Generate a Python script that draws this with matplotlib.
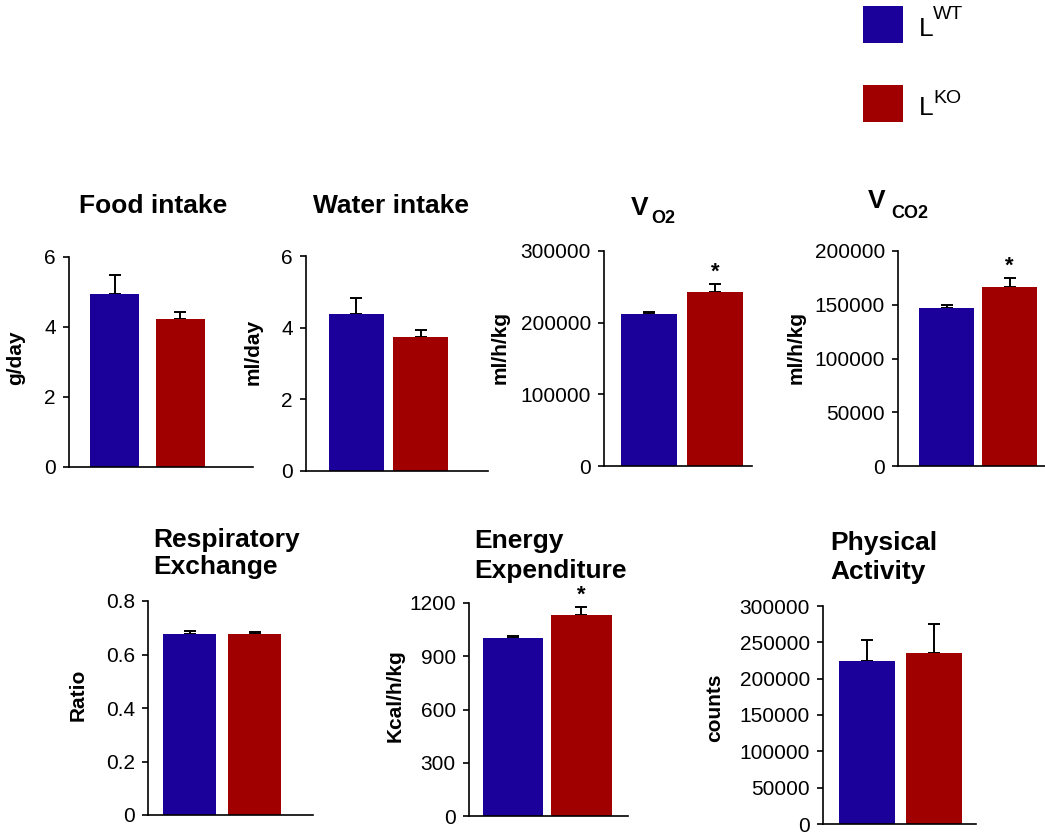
import matplotlib
matplotlib.use("Agg")
import matplotlib.pyplot as plt
from matplotlib.patches import Rectangle
from matplotlib.ticker import FuncFormatter, MultipleLocator

plt.rcParams["font.family"] = ["Liberation Sans", "DejaVu Sans"]

WT_COLOR = "#1b009a"
KO_COLOR = "#a10000"

# group means (LWT, LKO) and upper SEM
food_mean = [4.94, 4.23]
food_sem = [0.55, 0.20]
water_mean = [4.38, 3.74]
water_sem = [0.45, 0.19]
vo2_mean = [212000, 243000]
vo2_sem = [3000, 11000]
vco2_mean = [147000, 166500]
vco2_sem = [3000, 8500]
rer_mean = [0.677, 0.677]
rer_sem = [0.012, 0.006]
ee_mean = [1003, 1132]
ee_sem = [11, 45]
pa_mean = [224000, 235000]
pa_sem = [29000, 40000]

food_sig = [False, False]
water_sig = [False, False]
vo2_sig = [False, True]
vco2_sig = [False, True]
rer_sig = [False, False]
ee_sig = [False, True]
pa_sig = [False, False]

W, H = 1045, 835
fig = plt.figure(figsize=(W / 100, H / 100), dpi=100)


def fx(x):
    return x / W


def fy(y):
    return 1 - y / H


def panel(rect, xlim, width, ymax, ystep, mean, sem, sig, ylabel, label_xy):
    x0, x1, ytop, y0 = rect
    ax = fig.add_axes([fx(x0), fy(y0), fx(x1 - x0), (y0 - ytop) / H])
    ax.bar([0, 1], mean, width=width, color=[WT_COLOR, KO_COLOR], linewidth=0, zorder=2)
    ax.errorbar([0, 1], mean, yerr=[[0, 0], sem], fmt="none", ecolor="black",
                elinewidth=1.4, capsize=4, capthick=1.4, zorder=1)
    for i, s in enumerate(sig):
        if s:
            ax.annotate("*", (i, mean[i] + sem[i]), xytext=(0, 1), textcoords="offset points",
                        ha="center", va="bottom", fontsize=16, fontweight="bold")
    ax.set_xlim(*xlim)
    ax.set_ylim(0, ymax)
    ax.yaxis.set_major_locator(MultipleLocator(ystep))
    ax.yaxis.set_major_formatter(FuncFormatter(lambda v, p: f"{v:g}"))
    for side in ("top", "right"):
        ax.spines[side].set_visible(False)
    for side in ("left", "bottom"):
        ax.spines[side].set_linewidth(1.2)
    ax.set_xticks([])
    ax.tick_params(axis="y", direction="out", length=4.5, width=1.2, pad=5, labelsize=15)
    ax.set_ylabel(ylabel, fontsize=15, fontweight="bold", va="center", ha="center")
    ax.yaxis.set_label_coords(fx(label_xy[0]), fy(label_xy[1]), transform=fig.transFigure)
    ax.patch.set_visible(False)
    return ax


def title_lines(x, baselines, lines):
    for b, line in zip(baselines, lines):
        fig.text(fx(x), fy(b), line, ha="left", va="baseline", fontsize=19, fontweight="bold")


def sub_title(x_main, base_main, main, x_sub, base_sub, sub):
    fig.text(fx(x_main), fy(base_main), main, ha="left", va="baseline", fontsize=19, fontweight="bold")
    fig.text(fx(x_sub), fy(base_sub), sub, ha="left", va="baseline", fontsize=13, fontweight="bold")


# top row
panel((69, 253, 257, 467), (-0.69, 2.10), 0.74, 6, 2, food_mean, food_sem, food_sig, "g/day", (16, 358))
panel((306, 488, 256, 471), (-0.78, 2.04), 0.85, 6, 2, water_mean, water_sem, water_sig, "ml/day", (253, 352))
panel((604, 752, 251, 466), (-0.69, 1.56), 0.85, 300000, 100000, vo2_mean, vo2_sem, vo2_sig, "ml/h/kg", (500, 347))
panel((898, 1045, 251, 466), (-0.77, 1.56), 0.87, 200000, 50000, vco2_mean, vco2_sem, vco2_sig, "ml/h/kg", (796, 347))

# bottom row
panel((148, 313, 601, 815), (-0.64, 1.90), 0.82, 0.8, 0.2, rer_mean, rer_sem, rer_sig, "Ratio", (78, 695))
panel((469, 628, 603, 816), (-0.64, 1.68), 0.88, 1200, 300, ee_mean, ee_sem, ee_sig, "Kcal/h/kg", (395, 696))
panel((823, 976, 606, 824), (-0.66, 1.63), 0.84, 300000, 50000, pa_mean, pa_sem, pa_sig, "counts", (715, 708))

title_lines(79, [213], ["Food intake"])
title_lines(313, [213], ["Water intake"])
sub_title(631, 215, "V", 651, 223, "O2")
sub_title(868, 208, "V", 891, 218, "CO2")
title_lines(153, [547, 574], ["Respiratory", "Exchange"])
title_lines(474, [548, 578], ["Energy", "Expenditure"])
title_lines(830, [550, 579], ["Physical", "Activity"])

# legend
for top, color, sup, sup_base in [(6, WT_COLOR, "WT", 19), (85, KO_COLOR, "KO", 103)]:
    fig.patches.append(Rectangle((fx(863), fy(top + 37)), fx(40), 37 / H, facecolor=color,
                                 edgecolor="none", transform=fig.transFigure))
    fig.text(fx(919), fy(top + 30), "L", ha="left", va="baseline", fontsize=19)
    fig.text(fx(933), fy(sup_base), sup, ha="left", va="baseline", fontsize=14)

fig.savefig("out.png", dpi=100)
